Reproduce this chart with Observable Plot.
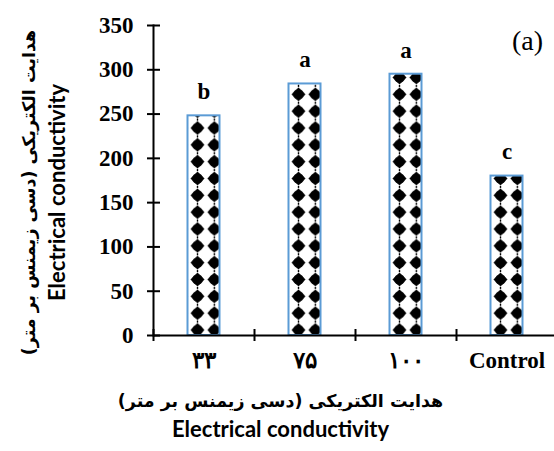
<!DOCTYPE html>
<html>
<head>
<meta charset="utf-8">
<script src="https://cdn.jsdelivr.net/npm/d3@7"></script>
<script src="https://cdn.jsdelivr.net/npm/@observablehq/plot@0.6"></script>
<style>
  body { margin: 0; background: white; }
  #chart svg { display: block; }
</style>
</head>
<body>
<div id="chart"></div>
<script>
const categories = ["۳۳", "۷۵", "۱۰۰", "Control"];
const values = [248, 284, 295, 180];
const letters = ["b", "a", "a", "c"];
const yTicks = [0, 50, 100, 150, 200, 250, 300, 350];
const yTitleFa = "هدایت الکتریکی (دسی زیمنس بر متر)";
const yTitleEn = "Electrical conductivity";
const xTitleFa = "هدایت الکتریکی (دسی زیمنس بر متر)";
const xTitleEn = "Electrical conductivity";
const panelTag = "(a)";

const data = categories.map((c, i) => ({cat: c, value: values[i], letter: letters[i]}));

const W = 554, H = 451;
const mL = 153, mT = 25, mB = 116, mR = 0;
const xRange = [153, 557];
const step = (xRange[1] - xRange[0]) / categories.length;
const barInset = (step - 32) / 2;
const frameW = W - mL - mR;
const frameH = H - mT - mB;

const serif = "'Liberation Serif', 'Times New Roman', serif";
const faFont = "'DejaVu Sans', sans-serif";
const enFont = "Lato, sans-serif";

const chart = Plot.plot({
  width: W,
  height: H,
  marginLeft: mL,
  marginRight: mR,
  marginTop: mT,
  marginBottom: mB,
  style: {background: "white", fontFamily: serif, fontWeight: "bold", fontSize: "23px", color: "black", overflow: "visible"},
  x: {domain: categories, range: xRange, padding: 0, label: null},
  y: {domain: [0, 350], label: null},
  marks: [
    Plot.barY(data, {x: "cat", y: "value", fill: "url(#ecPattern)", stroke: "#5B9BD5", strokeWidth: 2,
      insetLeft: barInset, insetRight: barInset}),
    // tick labels
    Plot.axisY({ticks: yTicks, tickSize: 0, tickPadding: 20, fontSize: 23, fontWeight: "bold", fontFamily: serif, fill: "black", label: null}),
    // crossing tick marks
    Plot.axisY({ticks: yTicks, tickSize: 13, dx: 7, tickFormat: () => "", stroke: "black", strokeWidth: 2, label: null}),
    Plot.axisX({tickSize: 0, tickPadding: 16, fontSize: 23, fontWeight: "bold", fontFamily: serif, fill: "black", label: null}),
    Plot.ruleX(categories, {x: d => d, dx: -step / 2, insetTop: frameH - 6, insetBottom: -6, stroke: "black", strokeWidth: 2}),
    Plot.ruleY([0], {stroke: "black", strokeWidth: 2}),
    Plot.frame({anchor: "left", stroke: "black", strokeWidth: 2}),
    Plot.text(data, {x: "cat", y: "value", text: "letter", dy: -24, fontSize: 23, fontWeight: "bold", fontFamily: serif, fill: "black"}),
    Plot.text([panelTag], {frameAnchor: "top-right", text: d => d, dx: -27, dy: 5, fontSize: 28, fontWeight: "normal", fontFamily: serif, textAnchor: "middle", fill: "black"}),
    Plot.text([yTitleFa], {frameAnchor: "left", text: d => d, rotate: -90, dx: -124, dy: 12, fontSize: 17.5, fontWeight: "bold", fontFamily: faFont, textAnchor: "middle", fill: "black"}),
    Plot.text([yTitleEn], {frameAnchor: "left", text: d => d, rotate: -90, dx: -96, dy: 12, fontSize: 22, fontWeight: "bold", fontFamily: enFont, textAnchor: "middle", fill: "black"}),
    Plot.text([xTitleFa], {frameAnchor: "bottom-left", text: d => d, dx: 127, dy: 71, fontSize: 17.5, fontWeight: "bold", fontFamily: faFont, textAnchor: "middle", fill: "black"}),
    Plot.text([xTitleEn], {frameAnchor: "bottom-left", text: d => d, dx: 127, dy: 101, fontSize: 22, fontWeight: "bold", fontFamily: enFont, textAnchor: "middle", fill: "black"})
  ]
});

// pattern fill, anchored on the first bar via the plot's own scales
const xs = chart.scale("x"), ys = chart.scale("y");
const p = step / 6;
const px = xs.apply(categories[0]) + barInset + 10 - p / 2;
const py = ys.apply(0) - 5 - p / 2;
const c = p / 2;
const svg = d3.select(chart);
const defs = svg.insert("defs", ":first-child");
const pat = defs.append("pattern")
  .attr("id", "ecPattern")
  .attr("patternUnits", "userSpaceOnUse")
  .attr("x", px).attr("y", py)
  .attr("width", p).attr("height", p);
pat.append("rect").attr("width", p).attr("height", p).attr("fill", "white");
const r1 = 7;
pat.append("path")
  .attr("d", `M${c},${c - r1}L${c + r1},${c}L${c},${c + r1}L${c - r1},${c}Z`)
  .attr("fill", "black");
pat.append("circle").attr("cx", c).attr("cy", c).attr("r", 5.3).attr("fill", "black");
pat.append("rect").attr("x", c - 0.7).attr("y", 0).attr("width", 1.4).attr("height", 1.0).attr("fill", "black");
pat.append("rect").attr("x", c - 0.7).attr("y", p - 1.0).attr("width", 1.4).attr("height", 1.0).attr("fill", "black");

document.getElementById("chart").appendChild(chart);
</script>
</body>
</html>
